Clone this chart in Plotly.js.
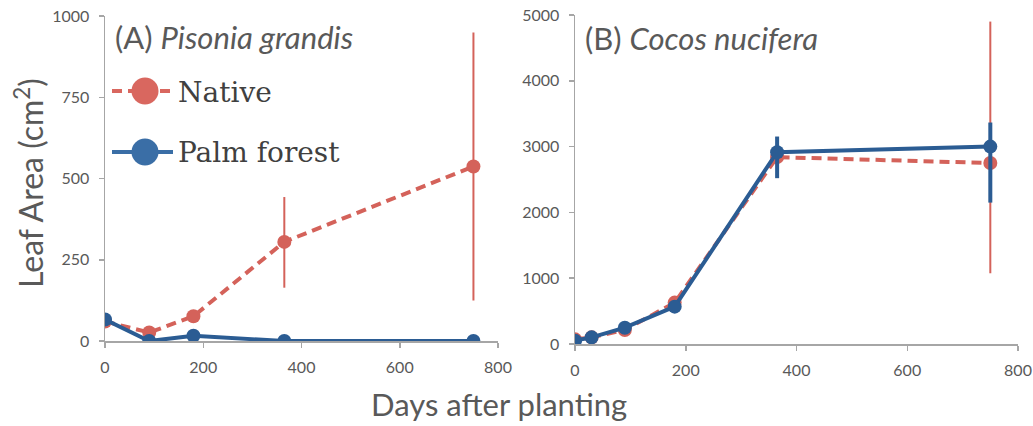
<!DOCTYPE html>
<html>
<head>
<meta charset="utf-8">
<script src="https://cdn.plot.ly/plotly-3.0.1.min.js"></script>
<style>html,body{margin:0;padding:0;background:#fff;}#chart{width:1033px;height:426px;}</style>
</head>
<body>
<div id="chart"></div>
<script>
// Panel A: Pisonia grandis
const daysA = [0, 90, 180, 365, 750];
const nativeA = [60, 26, 76, 305, 537];
const nativeAErrPlus = [0, 0, 0, 138, 412];
const nativeAErrMinus = [0, 0, 0, 141, 412];
const palmA = [66, 0, 16, 0, 0];

// Panel B: Cocos nucifera
const daysB = [0, 30, 90, 180, 365, 750];
const nativeB = [71, 101, 213, 629, 2840, 2750];
const nativeBErrPlus = [0, 0, 0, 0, 260, 2150];
const nativeBErrMinus = [0, 0, 0, 0, 260, 1675];
const palmB = [51, 101, 248, 568, 2915, 3000];
const palmBErrPlus = [0, 0, 0, 0, 238, 366];
const palmBErrMinus = [0, 0, 0, 0, 395, 851];

const xTicks = [0, 200, 400, 600, 800];
const yTicksA = [0, 250, 500, 750, 1000];
const yTicksB = [0, 1000, 2000, 3000, 4000, 5000];

const RED = '#D4625A';
const BLUE = '#2B5C93';
const GREY = '#595959';
const AXIS = '#A6A6A6';
const FONT = 'Lato, "Open Sans", sans-serif';

const W = 1033, H = 426;

const traces = [
  {x: daysA, y: nativeA, xaxis: 'x', yaxis: 'y', mode: 'lines+markers', name: 'Native',
   line: {color: RED, width: 4, dash: '10px,6px'}, marker: {color: RED, size: 14},
   error_y: {type: 'data', symmetric: false, array: nativeAErrPlus, arrayminus: nativeAErrMinus, color: RED, thickness: 2, width: 0},
   showlegend: false},
  {x: daysA, y: palmA, xaxis: 'x', yaxis: 'y', mode: 'lines+markers', name: 'Palm forest',
   line: {color: BLUE, width: 4}, marker: {color: BLUE, size: 14}, showlegend: false},
  {x: daysB, y: nativeB, xaxis: 'x2', yaxis: 'y2', mode: 'lines+markers', name: 'Native',
   line: {color: RED, width: 4, dash: '10px,6px'}, marker: {color: RED, size: 14},
   error_y: {type: 'data', symmetric: false, array: nativeBErrPlus, arrayminus: nativeBErrMinus, color: RED, thickness: 2, width: 0},
   showlegend: false},
  {x: daysB, y: palmB, xaxis: 'x2', yaxis: 'y2', mode: 'lines+markers', name: 'Palm forest',
   line: {color: BLUE, width: 4}, marker: {color: BLUE, size: 14},
   error_y: {type: 'data', symmetric: false, array: palmBErrPlus, arrayminus: palmBErrMinus, color: BLUE, thickness: 4, width: 0},
   showlegend: false}
];

const axisCommon = {
  showgrid: false, zeroline: false, showline: true, linecolor: AXIS, linewidth: 1.5,
  ticks: 'outside', ticklen: 5, tickcolor: AXIS, tickwidth: 1.5,
  tickfont: {family: FONT, size: 16, color: GREY}, fixedrange: true
};

const layout = {
  width: W, height: H,
  margin: {l: 0, r: 0, t: 0, b: 0},
  paper_bgcolor: '#fff', plot_bgcolor: '#fff',
  showlegend: false,
  xaxis: Object.assign({}, axisCommon, {domain: [105/W, 498/W], range: [0, 800], tickvals: xTicks, ticklabelstandoff: 6, anchor: 'y'}),
  yaxis: Object.assign({}, axisCommon, {domain: [(H-341)/H, (H-16)/H], range: [0, 1000], tickvals: yTicksA, ticklabelstandoff: 6, anchor: 'x'}),
  xaxis2: Object.assign({}, axisCommon, {domain: [575/W, 1018/W], range: [0, 800], tickvals: xTicks, ticklabelstandoff: 6, anchor: 'y2'}),
  yaxis2: Object.assign({}, axisCommon, {domain: [(H-344)/H, (H-15)/H], range: [0, 5000], tickvals: yTicksB, ticklabelstandoff: 6, anchor: 'x2'}),
  annotations: [
    {xref: 'paper', yref: 'paper', x: 113/W, y: (H-37)/H, xanchor: 'left', yanchor: 'middle', showarrow: false,
     text: '(A) <i>Pisonia grandis</i>', font: {family: FONT, size: 31, color: GREY}},
    {xref: 'paper', yref: 'paper', x: 583/W, y: (H-38)/H, xanchor: 'left', yanchor: 'middle', showarrow: false,
     text: '(B) <i>Cocos nucifera</i>', font: {family: FONT, size: 31, color: GREY}},
    {xref: 'paper', yref: 'paper', x: 176/W, y: (H-92)/H, xanchor: 'left', yanchor: 'middle', showarrow: false,
     text: 'Native', font: {family: '"DejaVu Serif", serif', size: 28, color: '#404040'}},
    {xref: 'paper', yref: 'paper', x: 176/W, y: (H-152)/H, xanchor: 'left', yanchor: 'middle', showarrow: false,
     text: 'Palm forest', font: {family: '"DejaVu Serif", serif', size: 28, color: '#404040'}},
    {xref: 'paper', yref: 'paper', x: 29/W, y: (H-183)/H, xanchor: 'center', yanchor: 'middle', showarrow: false, textangle: -90,
     text: 'Leaf Area (cm<sup>2</sup>)', font: {family: FONT, size: 32, color: GREY}},
    {xref: 'paper', yref: 'paper', x: 499/W, y: (H-404)/H, xanchor: 'center', yanchor: 'middle', showarrow: false,
     text: 'Days after planting', font: {family: FONT, size: 31, color: GREY}}
  ],
  shapes: [
    {type: 'line', xref: 'paper', yref: 'paper', x0: 112/W, x1: 173/W, y0: (H-91)/H, y1: (H-91)/H,
     line: {color: '#D9675F', width: 4, dash: '10px,6px'}},
    {type: 'circle', xref: 'paper', yref: 'paper', xsizemode: 'pixel', ysizemode: 'pixel',
     xanchor: 145/W, yanchor: (H-91)/H, x0: -13.5, x1: 13.5, y0: -13.5, y1: 13.5,
     fillcolor: '#D9675F', line: {width: 0}},
    {type: 'line', xref: 'paper', yref: 'paper', x0: 112/W, x1: 173/W, y0: (H-152)/H, y1: (H-152)/H,
     line: {color: '#3A6EA6', width: 4}},
    {type: 'circle', xref: 'paper', yref: 'paper', xsizemode: 'pixel', ysizemode: 'pixel',
     xanchor: 145/W, yanchor: (H-152)/H, x0: -13.5, x1: 13.5, y0: -13.5, y1: 13.5,
     fillcolor: '#3A6EA6', line: {width: 0}}
  ]
};

Plotly.newPlot('chart', traces, layout, {staticPlot: true, displayModeBar: false});
</script>
</body>
</html>
